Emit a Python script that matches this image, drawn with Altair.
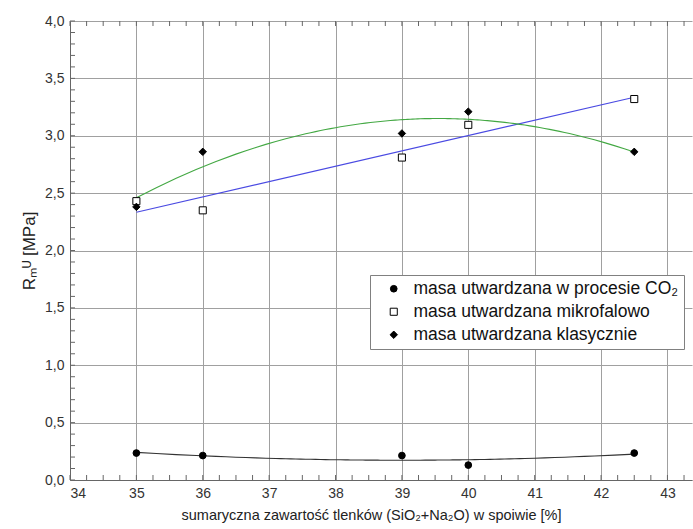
import altair as alt
import pandas as pd

# ---- data ----
x_vals = [35, 36, 39, 40, 42.5]
co2_vals = [0.235, 0.213, 0.213, 0.13, 0.235]
mikro_vals = [2.43, 2.35, 2.81, 3.095, 3.32]
klas_vals = [2.38, 2.86, 3.02, 3.21, 2.86]
series_names = [
    "masa utwardzana w procesie CO₂",
    "masa utwardzana mikrofalowo",
    "masa utwardzana klasycznie",
]
x_labels = [34, 35, 36, 37, 38, 39, 40, 41, 42, 43]
y_labels = [0.0, 0.5, 1.0, 1.5, 2.0, 2.5, 3.0, 3.5, 4.0]
x_minor = [34 + 0.25 * i for i in range(38)]
y_minor = [round(0.1 * i, 1) for i in range(41)]

rows = []
for name, vals in zip(series_names, [co2_vals, mikro_vals, klas_vals]):
    for xv, yv in zip(x_vals, vals):
        rows.append({"x": xv, "y": yv, "series": name})
df = pd.DataFrame(rows)

FONT = "Liberation Sans"
XDOM = [34, 43.37]
YDOM = [0, 4]
W, H = 622, 459
TICK_LEN = 5

def xs():
    return alt.Scale(domain=XDOM, nice=False, zero=False)

def ys():
    return alt.Scale(domain=YDOM, nice=False, zero=False)

base = alt.Chart(df)

def reg_line(name, method, color, order=None):
    kw = {"method": method}
    if order is not None:
        kw["order"] = order
    return (
        base.transform_filter(alt.datum.series == name)
        .transform_regression("x", "y", **kw)
        .mark_line(color=color, strokeWidth=1.1)
        .encode(
            x=alt.X("x:Q", scale=xs(), axis=None),
            y=alt.Y("y:Q", scale=ys(), axis=None),
        )
    )

line_co2 = reg_line(series_names[0], "poly", "#333333", order=2)
line_mik = reg_line(series_names[1], "linear", "#4a4ae2")
line_kla = reg_line(series_names[2], "poly", "#43a843", order=2)

legend = alt.Legend(
    title=None,
    orient="none",
    legendX=300,
    legendY=254,
    fillColor="white",
    strokeColor="#808080",
    padding=5,
    labelFont=FONT,
    labelFontSize=17.5,
    labelColor="#111111",
    labelLimit=0,
    symbolStrokeColor="black",
    symbolStrokeWidth=1,
    symbolOffset=10,
    labelOffset=11,
    rowPadding=4,
)

points = base.mark_point(filled=True, stroke="black", strokeWidth=1, opacity=1).encode(
    x=alt.X(
        "x:Q",
        scale=xs(),
        axis=alt.Axis(
            orient="bottom",
            values=x_labels,
            tickCount=200,
            format="d",
            title="sumaryczna zawartość tlenków (SiO₂+Na₂O) w spoiwie [%]",
            titleX=301,
            grid=True,
            gridColor="#a0a0a0",
            gridWidth=1,
            ticks=False,
            domainColor="#666666",
            labelFont=FONT,
            labelFontSize=14,
            labelColor="#333333",
            labelPadding=6,
            labelOverlap=False,
            titleFont=FONT,
            titleFontSize=14.5,
            titleFontWeight="normal",
            titleColor="#222222",
            titlePadding=8,
        ),
    ),
    y=alt.Y(
        "y:Q",
        scale=ys(),
        axis=alt.Axis(
            orient="left",
            values=y_labels,
            tickCount=200,
            labelExpr="replace(format(datum.value, '.1f'), '.', ',')",
            title="Rₘᵁ [MPa]",
            grid=True,
            gridColor="#a0a0a0",
            gridWidth=1,
            ticks=False,
            domainColor="#666666",
            labelFont=FONT,
            labelFontSize=14,
            labelColor="#333333",
            labelPadding=6,
            labelOverlap=False,
            titleFont=FONT,
            titleFontSize=17,
            titleFontWeight="normal",
            titleColor="#222222",
            titlePadding=6,
        ),
    ),
    shape=alt.Shape(
        "series:N",
        scale=alt.Scale(domain=series_names, range=["circle", "square", "diamond"]),
        legend=legend,
    ),
    fill=alt.Fill(
        "series:N",
        scale=alt.Scale(domain=series_names, range=["black", "white", "black"]),
        legend=legend,
    ),
    stroke=alt.Stroke(
        "series:N",
        scale=alt.Scale(domain=series_names, range=["black", "black", "black"]),
        legend=legend,
    ),
    size=alt.Size(
        "series:N",
        scale=alt.Scale(domain=series_names, range=[45, 55, 75]),
        legend=legend,
    ),
)

# inward minor ticks drawn from the tick lists through the same scales
xt = alt.Chart(pd.DataFrame({"v": x_minor}))
yt = alt.Chart(pd.DataFrame({"v": y_minor}))
tick_style = dict(size=TICK_LEN, thickness=1, color="#666666", opacity=1)

ticks_bottom = xt.mark_tick(orient="vertical", **tick_style).encode(
    x=alt.X("v:Q", scale=xs(), axis=None),
    y=alt.value(H - TICK_LEN / 2),
)
ticks_top = xt.mark_tick(orient="vertical", **tick_style).encode(
    x=alt.X("v:Q", scale=xs(), axis=None),
    y=alt.value(TICK_LEN / 2),
)
ticks_left = yt.mark_tick(orient="horizontal", **tick_style).encode(
    y=alt.Y("v:Q", scale=ys(), axis=None),
    x=alt.value(TICK_LEN / 2),
)

chart = (
    alt.layer(ticks_bottom, ticks_top, ticks_left, line_co2, line_mik, line_kla, points)
    .resolve_scale(x="independent", y="independent")
    .properties(
        width=W,
        height=H,
        autosize=alt.AutoSizeParams(type="none"),
        padding={"left": 70, "top": 21, "right": 1, "bottom": 49},
        background="white",
    )
    .configure_view(stroke=None)
)

chart.save("out.html", embed_options={"renderer": "svg", "actions": False})
